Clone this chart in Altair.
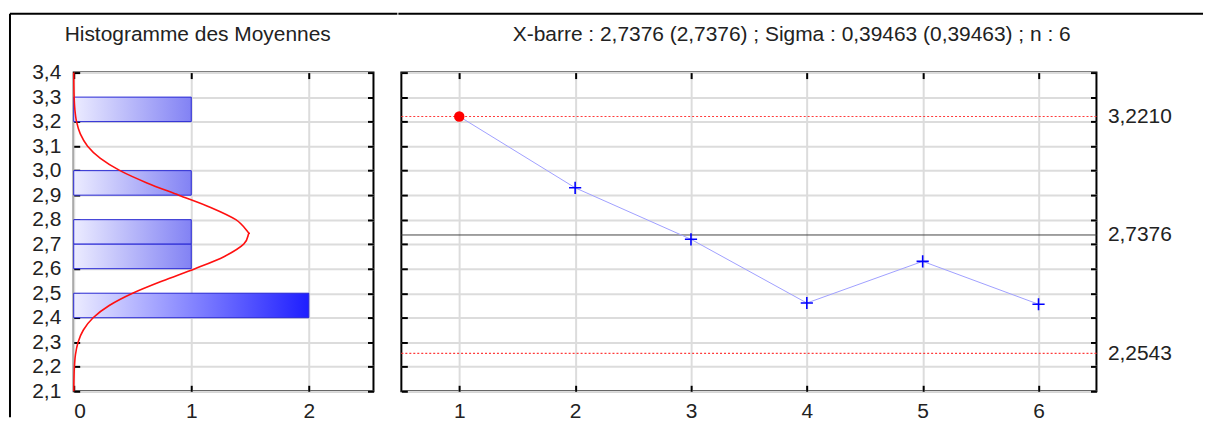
import altair as alt
import pandas as pd

# ---------------- data ----------------
samples = [1, 2, 3, 4, 5, 6]
means = [3.221, 2.93, 2.72, 2.46, 2.63, 2.455]
ucl = 3.2210
center = 2.7376
lcl = 2.2543

bin_lo = [3.2, 2.9, 2.7, 2.6, 2.4]
bin_hi = [3.3, 3.0, 2.8, 2.7, 2.5]
bin_count = [1, 1, 1, 1, 2]

curve_y = [2.10, 2.15, 2.20, 2.25, 2.30, 2.35, 2.40, 2.45, 2.50, 2.55, 2.60, 2.65,
           2.70, 2.74, 2.75, 2.80, 2.85, 2.90, 2.95, 3.00, 3.05, 3.10, 3.15, 3.20,
           3.25, 3.30, 3.35, 3.40]
curve_x = [0.0006, 0.0019, 0.0057, 0.015, 0.037, 0.082, 0.165, 0.302, 0.501, 0.754,
           1.032, 1.282, 1.446, 1.486, 1.482, 1.379, 1.165, 0.894, 0.623, 0.394,
           0.227, 0.118, 0.056, 0.024, 0.0095, 0.0034, 0.0011, 0.0003]

y_ticks = [2.1, 2.2, 2.3, 2.4, 2.5, 2.6, 2.7, 2.8, 2.9, 3.0, 3.1, 3.2, 3.3, 3.4]
hist_x_ticks = [0, 1, 2]
limit_ticks = [ucl, center, lcl]

title_left = "Histogramme des Moyennes"
title_right = "X-barre : 2,7376 (2,7376) ; Sigma : 0,39463 (0,39463) ; n : 6"

# ---------------- layout constants ----------------
W1, W2, H = 301, 698, 320
FONT = "Liberation Sans"
FS = 21

hist = pd.DataFrame({"lo": bin_lo, "hi": bin_hi, "count": bin_count})
curve = pd.DataFrame({"y": curve_y, "x": curve_x})
pts = pd.DataFrame({"sample": samples, "mean": means})

yscale = alt.Scale(domain=[2.1, 3.4], nice=False, zero=False)
xscale_h = alt.Scale(domain=[0, 2.55], nice=False)
xscale_c = alt.Scale(domain=[0.5, 6.5], nice=False, zero=False)

comma1 = "replace(format(datum.value, '.1f'), '.', ',')"
comma0 = "replace(format(datum.value, 'd'), '.', ',')"
comma4 = "replace(format(datum.value, '.4f'), '.', ',')"


def tick_axis(orient, offset, values, grid=False):
    return alt.Axis(orient=orient, offset=offset, values=values, labels=False,
                    ticks=True, tickSize=6, tickWidth=2, tickColor="black",
                    domain=False, grid=grid, title=None)


def grad(end):
    return alt.Gradient(gradient="linear",
                        stops=[alt.GradientStop(color="#ececff", offset=0),
                               alt.GradientStop(color=end, offset=1)],
                        x1=0, x2=1, y1=0, y2=0)


label_style = dict(labelFont=FONT, labelFontSize=FS, labelColor="#222222")

# ---------------- left panel: histogram ----------------
bars1 = alt.Chart(hist).transform_filter(alt.datum.count == 1).mark_bar(
    color=grad("#8282f4"), stroke="#2626d4", strokeWidth=1
).encode(
    x=alt.X("count:Q", scale=xscale_h,
            axis=alt.Axis(orient="bottom", values=hist_x_ticks, labelExpr=comma0,
                          ticks=False, domain=False, grid=True, labelPadding=9,
                          title=None, **label_style)),
    x2=alt.datum(0),
    y=alt.Y("lo:Q", scale=yscale,
            axis=alt.Axis(orient="left", values=y_ticks, labelExpr=comma1,
                          ticks=False, domain=False, grid=True, labelPadding=13,
                          title=None, **label_style)),
    y2="hi:Q",
)

bars2 = alt.Chart(hist).transform_filter(alt.datum.count == 2).mark_bar(
    color=grad("#1e1eff"), stroke="#2626d4", strokeWidth=1
).encode(
    x=alt.X("count:Q", scale=xscale_h, axis=tick_axis("bottom", -H, hist_x_ticks)),
    x2=alt.datum(0),
    y=alt.Y("lo:Q", scale=yscale, axis=tick_axis("left", -W1, y_ticks)),
    y2="hi:Q",
)

curve_line = alt.Chart(curve).mark_line(
    color="#ff1010", strokeWidth=1.6, interpolate="cardinal"
).encode(
    x=alt.X("x:Q", scale=xscale_h, axis=tick_axis("top", -H, hist_x_ticks)),
    y=alt.Y("y:Q", scale=yscale, axis=tick_axis("right", -W1, y_ticks)),
    order=alt.Order("y:Q"),
)

frame_left = alt.Chart().mark_rule(color="black", strokeWidth=2).encode(
    x=alt.value(-64), y=alt.value(-59), y2=alt.value(346))
frame_top_left = alt.Chart().mark_rule(color="black", strokeWidth=2).encode(
    x=alt.value(-64), x2=alt.value(W1 + 24), y=alt.value(-59))

left = alt.layer(bars1, bars2, curve_line, frame_left, frame_top_left).resolve_axis(
    x="independent", y="independent"
).properties(
    width=W1, height=H,
    title=alt.TitleParams(title_left, font=FONT, fontSize=FS, fontWeight="normal",
                          color="#222222", anchor="middle", frame="group",
                          dx=-26, offset=-32),
)

# ---------------- right panel: control chart ----------------
base = alt.Chart(pts)

series = base.mark_line(color="#9f9fff", strokeWidth=1).encode(
    x=alt.X("sample:Q", scale=xscale_c,
            axis=alt.Axis(orient="bottom", values=samples, ticks=False, domain=False,
                          grid=True, labelPadding=9, title=None, **label_style)),
    y=alt.Y("mean:Q", scale=yscale,
            axis=alt.Axis(orient="right", values=limit_ticks, labelExpr=comma4,
                          ticks=False, domain=False, grid=False, labelPadding=11,
                          title=None, **label_style)),
)

ok_pts = base.transform_filter(
    (alt.datum.mean < ucl) & (alt.datum.mean > lcl)
).mark_point(
    shape="M-1,0L1,0M0,-1L0,1", filled=False, color="#0000ff", strokeWidth=1.6,
    size=150, opacity=1
).encode(
    x=alt.X("sample:Q", scale=xscale_c, axis=tick_axis("bottom", -H, samples)),
    y=alt.Y("mean:Q", scale=yscale, axis=tick_axis("right", -W2, y_ticks, grid=True)),
)

out_pts = base.transform_filter(
    (alt.datum.mean >= ucl) | (alt.datum.mean <= lcl)
).mark_point(
    shape="circle", filled=True, color="#ff0000", size=110, opacity=1
).encode(
    x=alt.X("sample:Q", scale=xscale_c, axis=tick_axis("top", -H, samples)),
    y=alt.Y("mean:Q", scale=yscale, axis=tick_axis("left", -W2, y_ticks)),
)

limit_rules = alt.Chart(pd.DataFrame({"v": [ucl, lcl]})).mark_rule(
    color="#ff3c3c", strokeWidth=1.2, strokeDash=[2, 2]
).encode(y=alt.Y("v:Q", scale=yscale, axis=None))

center_rule = alt.Chart(pd.DataFrame({"v": [center]})).mark_rule(
    color="#444444", strokeWidth=1
).encode(y=alt.Y("v:Q", scale=yscale, axis=None))

frame_top_right = alt.Chart().mark_rule(color="black", strokeWidth=2).encode(
    x=alt.value(-3), x2=alt.value(805), y=alt.value(-59))

right = alt.layer(
    limit_rules, center_rule, series, ok_pts, out_pts, frame_top_right
).resolve_axis(x="independent", y="independent").properties(
    width=W2, height=H,
    title=alt.TitleParams(title_right, font=FONT, fontSize=FS, fontWeight="normal",
                          color="#222222", anchor="middle", frame="group",
                          dx=43, offset=-32),
)

chart = alt.hconcat(left, right, spacing=-3).properties(
    padding={"left": 0, "top": 3, "right": 0, "bottom": 0},
    background="white",
).configure_view(
    stroke="black", strokeWidth=2
).configure_axis(
    gridColor="#dcdcdc", gridWidth=2, labelFont=FONT, labelFontSize=FS,
    labelColor="#222222", tickColor="black"
)

chart.save("out.html", embed_options={"renderer": "svg", "actions": False})
